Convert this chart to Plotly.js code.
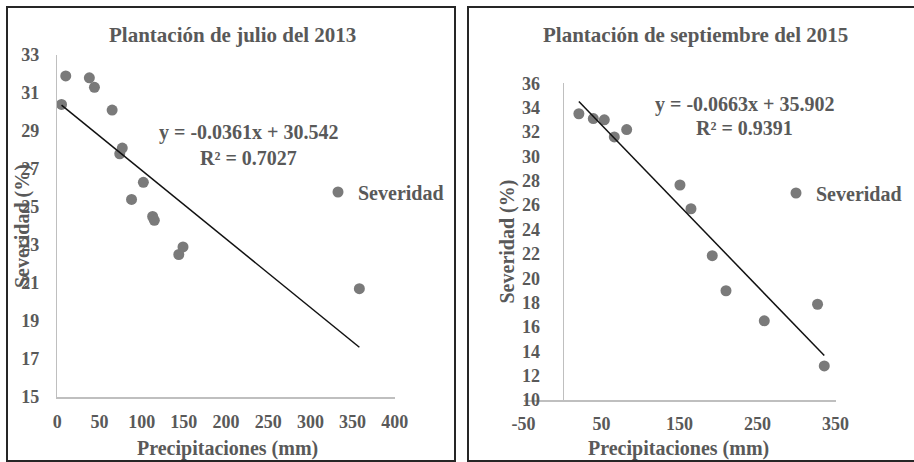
<!DOCTYPE html>
<html>
<head>
<meta charset="utf-8">
<script src="https://cdn.plot.ly/plotly-3.0.1.min.js"></script>
<style>html,body{margin:0;padding:0;background:#fff;}#chart{width:914px;height:462px;}</style>
</head>
<body>
<div id="chart"></div>
<script>
// ---- Data ----
const precip2013 = [5, 10, 38, 44, 65, 74, 77, 88, 102, 113, 115, 144, 149, 358];
const sev2013    = [30.4, 31.9, 31.8, 31.3, 30.1, 27.8, 28.1, 25.4, 26.3, 24.5, 24.3, 22.5, 22.9, 20.7];
const slope2013 = -0.0361, intercept2013 = 30.542, r2_2013 = 0.7027;

const precip2015 = [21, 39.5, 53.6, 66.4, 82.3, 150.6, 164.7, 192, 209.6, 258.7, 327, 335.6];
const sev2015    = [33.5, 33.1, 33.0, 31.6, 32.2, 27.65, 25.7, 21.85, 18.97, 16.5, 17.86, 12.8];
const slope2015 = -0.0663, intercept2015 = 35.902, r2_2015 = 0.9391;

const xTicks2015 = [-50, 50, 150, 250, 350];
const xTickLabels2015 = ["-50", "50", "150", "250", "350"];

const titles = ["Plantación de julio del 2013", "Plantación de septiembre del 2015"];
const xTitle = "Precipitaciones (mm)";
const yTitle = "Severidad (%)";
const seriesName = "Severidad";

// ---- helpers ----
const W = 914, H = 462;
const px = v => v / W;
const py = v => 1 - v / H;
const FONT = "Liberation Serif, Times New Roman, serif";
const TXT = "#595959";
const f = (size) => ({family: FONT, size: size, color: TXT, weight: 700});
function trend(xs, m, b) {
  const x0 = Math.min(...xs), x1 = Math.max(...xs);
  return {x: [x0, x1], y: [m * x0 + b, m * x1 + b]};
}
const t13 = trend(precip2013, slope2013, intercept2013);
const t15 = trend(precip2015, slope2015, intercept2015);
const fmtEq = (m, b) => "y = " + m.toFixed(4) + "x + " + b.toFixed(3);

const markerStyle = {size: 11, color: "#7a7a7a"};

const data = [
  {x: precip2013, y: sev2013, type: "scatter", mode: "markers", name: seriesName,
   marker: markerStyle, xaxis: "x", yaxis: "y", legend: "legend", cliponaxis: false},
  {x: t13.x, y: t13.y, type: "scatter", mode: "lines", showlegend: false,
   line: {color: "#111", width: 1.5}, xaxis: "x", yaxis: "y"},
  {x: precip2015, y: sev2015, type: "scatter", mode: "markers", name: seriesName,
   marker: markerStyle, xaxis: "x2", yaxis: "y2", legend: "legend2", cliponaxis: false},
  {x: t15.x, y: t15.y, type: "scatter", mode: "lines", showlegend: false,
   line: {color: "#111", width: 1.5}, xaxis: "x2", yaxis: "y2"}
];

const axBase = {
  showgrid: false, zeroline: false, showline: true, linecolor: "#bfbfbf", linewidth: 1.5,
  ticks: "outside", tickcolor: "rgba(0,0,0,0)", tickfont: f(18), fixedrange: true
};

const layout = {
  width: W, height: H,
  margin: {l: 0, r: 0, t: 0, b: 0},
  paper_bgcolor: "#fff", plot_bgcolor: "rgba(0,0,0,0)",
  showlegend: true,
  xaxis: Object.assign({}, axBase, {domain: [px(57.3), px(394.8)], range: [0, 400], dtick: 50, tick0: 0,
    anchor: "y", ticklen: 8}),
  yaxis: Object.assign({}, axBase, {domain: [py(397), py(55)], range: [15, 33], dtick: 2, tick0: 15,
    anchor: "x", ticklen: 13}),
  xaxis2: Object.assign({}, axBase, {domain: [px(523.5), px(835.5)], range: [-50, 350],
    tickmode: "array", tickvals: xTicks2015, ticktext: xTickLabels2015,
    anchor: "y2", ticklen: 7}),
  yaxis2: Object.assign({}, axBase, {domain: [py(400), py(83.3)], range: [10, 36], dtick: 2, tick0: 10,
    anchor: "free", position: px(562.5), ticklen: 19}),
  legend: {x: px(318), y: py(192), xanchor: "left", yanchor: "middle", font: f(20),
    bgcolor: "rgba(0,0,0,0)", itemwidth: 30},
  legend2: {x: px(776), y: py(193), xanchor: "left", yanchor: "middle", font: f(20),
    bgcolor: "rgba(0,0,0,0)", itemwidth: 30},
  shapes: [
    {type: "rect", xref: "paper", yref: "paper", x0: px(7), x1: px(455), y0: py(461), y1: py(7),
     line: {color: "#262626", width: 2}},
    {type: "rect", xref: "paper", yref: "paper", x0: px(468), x1: px(930), y0: py(461), y1: py(7),
     line: {color: "#262626", width: 2}}
  ],
  annotations: [
    {text: titles[0], xref: "paper", yref: "paper", x: px(233), y: py(35), showarrow: false, font: f(21),
     xanchor: "center", yanchor: "middle"},
    {text: titles[1], xref: "paper", yref: "paper", x: px(695), y: py(35), showarrow: false, font: f(21),
     xanchor: "center", yanchor: "middle"},
    {text: xTitle, xref: "paper", yref: "paper", x: px(227), y: py(448), showarrow: false, font: f(20),
     xanchor: "center", yanchor: "middle"},
    {text: xTitle, xref: "paper", yref: "paper", x: px(678), y: py(448), showarrow: false, font: f(20),
     xanchor: "center", yanchor: "middle"},
    {text: yTitle, xref: "paper", yref: "paper", x: px(22), y: py(226), showarrow: false, font: f(20),
     textangle: -90, xanchor: "center", yanchor: "middle"},
    {text: yTitle, xref: "paper", yref: "paper", x: px(507), y: py(241.5), showarrow: false, font: f(20),
     textangle: -90, xanchor: "center", yanchor: "middle"},
    {text: fmtEq(slope2013, intercept2013), xref: "paper", yref: "paper", x: px(248), y: py(133),
     showarrow: false, font: f(20), xanchor: "center", yanchor: "middle"},
    {text: "R² = " + r2_2013.toFixed(4), xref: "paper", yref: "paper", x: px(248), y: py(158),
     showarrow: false, font: f(20), xanchor: "center", yanchor: "middle"},
    {text: fmtEq(slope2015, intercept2015), xref: "paper", yref: "paper", x: px(744), y: py(104),
     showarrow: false, font: f(20), xanchor: "center", yanchor: "middle"},
    {text: "R² = " + r2_2015.toFixed(4), xref: "paper", yref: "paper", x: px(744), y: py(128),
     showarrow: false, font: f(20), xanchor: "center", yanchor: "middle"}
  ]
};

Plotly.newPlot("chart", data, layout, {displayModeBar: false, staticPlot: true});
</script>
</body>
</html>
